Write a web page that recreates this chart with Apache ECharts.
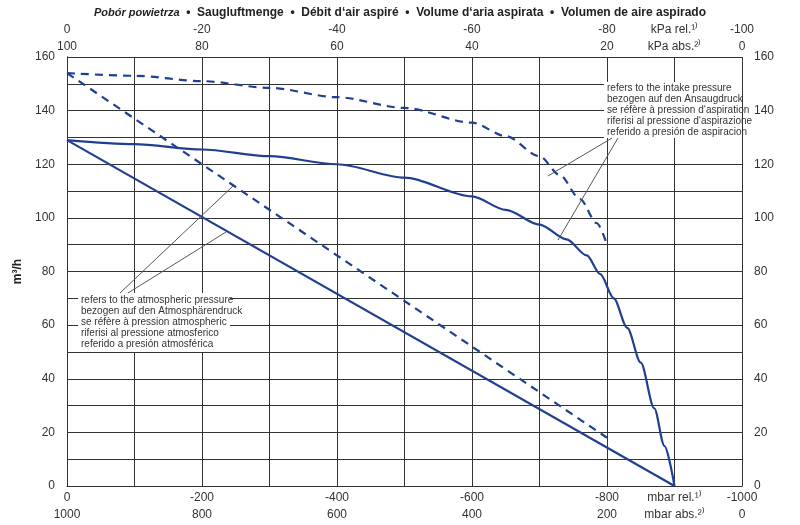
<!DOCTYPE html><html><head><meta charset="utf-8">
<script src="https://cdn.jsdelivr.net/npm/echarts@6/dist/echarts.min.js"></script>
<style>html,body{margin:0;background:#fff}#c{width:800px;height:525px}</style></head><body><div id="c"></div>
<script>
const mbarTicks=[0,200,400,600,800,1000];
const intakeCurve=[[0,129],[100,127.5],[200,125.5],[300,123],[400,120],[500,115],[600,108],[650,103],[700,97.5],[740,92],[770,86],[790,79],[810,70],[830,59],[850,46],[870,29],[885,15],[900,0]];
const intakeDashed=[[0,154],[100,153],[200,151],[300,148.5],[400,145],[500,141],[600,135.5],[650,130.5],[700,123],[730,116],[760,107],[785,98],[800,90]];
const atmSolid=[[0,129],[900,0]];
const atmDashed=[[0,154],[800,18]];
const lbl={color:'#333',fontFamily:'Liberation Sans Narrow, Arial Narrow, sans-serif',fontSize:12};
function xa(pos,off,formatter,main,margin){return {type:'value',min:0,max:1000,interval:100,position:pos,offset:off,
 axisLine:{show:main,lineStyle:{color:'#333'}},axisTick:{show:false},splitLine:{show:main,lineStyle:{color:'#333',width:1}},
 axisLabel:Object.assign({formatter,margin:margin||6},lbl)};}
const chart=echarts.init(document.getElementById('c'));
chart.setOption({
 animation:false,
 title:{text:'{i|Pobór powietrza}  •  Saugluftmenge  •  Débit d‘air aspiré  •  Volume d‘aria aspirata  •  Volumen de aire aspirado',left:'center',top:2,
  textStyle:{fontSize:12,fontWeight:'bold',color:'#222',fontFamily:'Liberation Sans Narrow, sans-serif',rich:{i:{fontStyle:'italic',fontWeight:'bold',fontSize:11}}}},
 grid:{left:67,right:58,top:57,bottom:39},
 xAxis:[xa('bottom',0,v=>v===900?'mbar rel.¹⁾':(v%200===0?(v?'-'+v:'0'):''),true),
  xa('bottom',17,v=>v===900?'mbar abs.²⁾':(v%200===0?String(1000-v):''),false),
  xa('top',15,v=>v===900?'kPa rel.¹⁾':(v%200===0?(v?'-'+v/10:'0'):''),false),
  xa('top',0,v=>v===900?'kPa abs.²⁾':(v%200===0?String((1000-v)/10):''),false,4)],
 yAxis:[0,1].map(i=>({type:'value',min:0,max:160,interval:10,position:i?'right':'left',
  name:i?'':'m³/h',nameLocation:'middle',nameGap:34,nameTextStyle:{fontWeight:'bold',fontSize:12,color:'#222'},
  axisLine:{show:true,lineStyle:{color:'#333'}},axisTick:{show:false},splitLine:{show:!i,lineStyle:{color:'#333'}},
  axisLabel:Object.assign({formatter:v=>v%20===0?String(v):'',margin:12},lbl)})),
 series:[
  {type:'line',data:intakeCurve,smooth:0.3,smoothMonotone:'x',symbol:'none',lineStyle:{color:'#1f3f91',width:2.2}},
  {type:'line',data:intakeDashed,smooth:0.3,smoothMonotone:'x',symbol:'none',lineStyle:{color:'#1f3f91',width:2.2,type:[8,6]}},
  {type:'line',data:atmSolid,symbol:'none',lineStyle:{color:'#1f3f91',width:2.2}},
  {type:'line',data:atmDashed,symbol:'none',lineStyle:{color:'#1f3f91',width:2.2,type:[8,6]}}
 ],
 graphic:[
  {type:'rect',z:100,shape:{x:604,y:82,width:138,height:56},style:{fill:'#fff'}},
  {type:'text',z:101,left:607,top:83,style:{text:'refers to the intake pressure\nbezogen auf den Ansaugdruck\nse réfère à pression d‘aspiration\nriferisi al pressione d‘aspirazione\nreferido a presión de aspiracion',fill:'#333',font:'10px Liberation Sans Narrow, sans-serif',lineHeight:11}},
  {type:'rect',z:100,shape:{x:78,y:293,width:152,height:59},style:{fill:'#fff'}},
  {type:'text',z:101,left:81,top:295,style:{text:'refers to the atmospheric pressure\nbezogen auf den Atmosphärendruck\nse réfère à pression atmospheric\nriferisi al pressione atmosferico\nreferido a presión atmosférica',fill:'#333',font:'10px Liberation Sans Narrow, sans-serif',lineHeight:11}},
  {type:'line',z:102,shape:{x1:612,y1:138,x2:548,y2:176},style:{stroke:'#555',lineWidth:1}},
  {type:'line',z:102,shape:{x1:618,y1:138,x2:558,y2:240},style:{stroke:'#555',lineWidth:1}},
  {type:'line',z:102,shape:{x1:120,y1:293,x2:233,y2:186},style:{stroke:'#555',lineWidth:1}},
  {type:'line',z:102,shape:{x1:128,y1:293,x2:226,y2:232},style:{stroke:'#555',lineWidth:1}}
 ]
});
</script></body></html>
